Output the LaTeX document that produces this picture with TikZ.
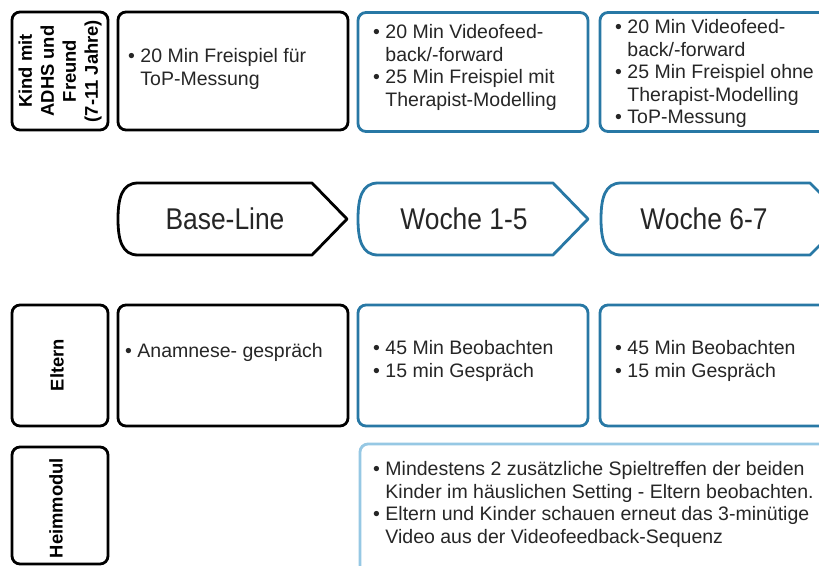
\documentclass[tikz,border=0pt]{standalone}
\usepackage{fontspec}
\setmainfont{Liberation Sans}
\newfontfamily\narrowfont[FakeStretch=0.88]{Liberation Sans}
\definecolor{boxblue}{RGB}{40,120,165}
\definecolor{lightblue}{RGB}{150,200,228}
\definecolor{txtgray}{RGB}{38,38,38}
\newcommand\phaseshape[4]{%
  \draw[draw=#4, line width=2.8pt, line join=round, fill=white]
    (#1+20,183) -- (#2,183) -- (#3,219) -- (#2,255) -- (#1+20,255)
    .. controls (#1+4,255) and (#1,240) .. (#1,219)
    .. controls (#1,198) and (#1+4,183) .. (#1+20,183) -- cycle;}
\begin{document}
\begin{tikzpicture}[x=1pt,y=-1pt,
  blackbox/.style={draw=black, line width=2.8pt, rounded corners=8pt, fill=white, inner sep=0pt},
  bluebox/.style={draw=boxblue, line width=2.8pt, rounded corners=8pt, fill=white, inner sep=0pt},
  lightbox/.style={draw=lightblue, line width=2.8pt, rounded corners=8pt, fill=white, inner sep=0pt},
  lbl/.style={font=\bfseries\fontsize{18.4}{22}\selectfont, rotate=90, align=center, inner sep=0pt, text=black},
  body/.style={font=\fontsize{19.5}{22.5}\selectfont, align=left, inner sep=0pt, anchor=west, text=txtgray},
  phase/.style={font=\narrowfont\fontsize{30}{30}\selectfont, inner sep=0pt, text=txtgray}]
\clip (0,0) rectangle (819,565);
\fill[white] (0,0) rectangle (819,565);

% row 1
\node[blackbox, minimum width=96pt, minimum height=118pt] (kind) at (60,71) {};
\node[blackbox, minimum width=230pt, minimum height=118pt] (b1) at (233,71) {};
\node[bluebox, minimum width=230pt, minimum height=119pt] (c1) at (473,72) {};
\node[bluebox, minimum width=240pt, minimum height=119pt] (d1) at (720,72) {};
\node[lbl] (kindlbl) at (kind.center) {Kind mit\\ADHS und\\Freund\\(7-11 Jahre)};
\node[body] (b1t) at (128,69) {• 20 Min Freispiel für\\\phantom{• }ToP-Messung};
\node[body] (c1t) at (373,67.5) {• 20 Min Videofeed-\\\phantom{• }back/-forward\\• 25 Min Freispiel mit\\\phantom{• }Therapist-Modelling};
\node[body] (d1t) at (615,73.5) {• 20 Min Videofeed-\\\phantom{• }back/-forward\\• 25 Min Freispiel ohne\\\phantom{• }Therapist-Modelling\\• ToP-Messung};

% row 2: phases
\phaseshape{118}{312}{347}{black}
\phaseshape{358}{553}{588}{boxblue}
\phaseshape{601}{810}{846}{boxblue}
\node[phase] (base) at (225,219) {Base-Line};
\node[phase] (w15) at (464,219) {Woche 1-5};
\node[phase] (w67) at (704,219) {Woche 6-7};

% row 3
\node[blackbox, minimum width=96pt, minimum height=121pt] (eltern) at (60,365.5) {};
\node[blackbox, minimum width=230pt, minimum height=121pt] (b3) at (233,365.5) {};
\node[bluebox, minimum width=230pt, minimum height=121pt] (c3) at (473,365.5) {};
\node[bluebox, minimum width=240pt, minimum height=121pt] (d3) at (720,365.5) {};
\node[lbl] (elternlbl) at (57,365) {Eltern};
\node[body] (b3t) at (125,352) {• Anamnese- gespräch};
\node[body] (c3t) at (373,361) {• 45 Min Beobachten\\• 15 min Gespräch};
\node[body] (d3t) at (615,361) {• 45 Min Beobachten\\• 15 min Gespräch};

% row 4
\node[blackbox, minimum width=96pt, minimum height=117pt] (heim) at (60,505.5) {};
\node[lbl] (heimlbl) at (56,508) {Heimmodul};
\node[lightbox, minimum width=480pt, minimum height=140pt] (home) at (600,514) {};
\node[body] (homet) at (373,504.5) {• Mindestens 2 zusätzliche Spieltreffen der beiden\\\phantom{• }Kinder im häuslichen Setting - Eltern beobachten.\\• Eltern und Kinder schauen erneut das 3-minütige\\\phantom{• }Video aus der Videofeedback-Sequenz};
\end{tikzpicture}
\end{document}
